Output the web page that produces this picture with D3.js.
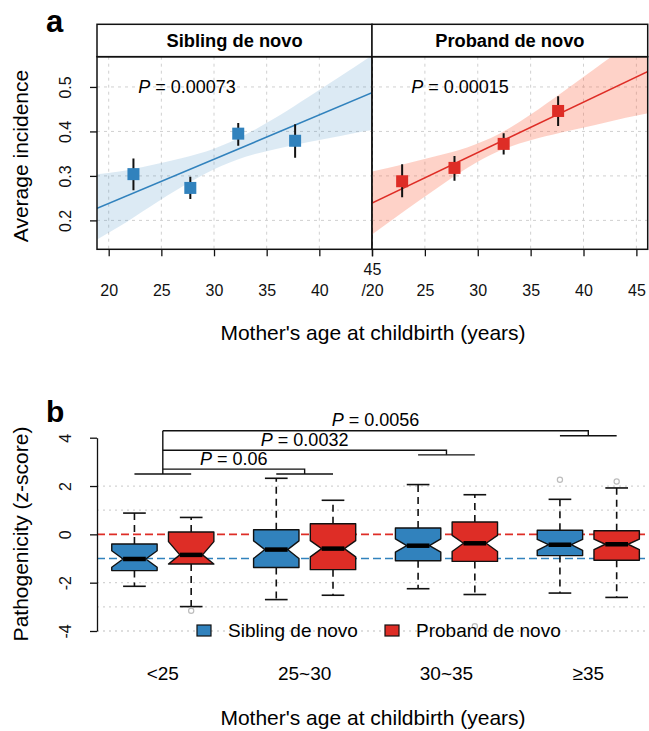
<!DOCTYPE html>
<html>
<head>
<meta charset="utf-8">
<script src="https://cdn.jsdelivr.net/npm/d3@7"></script>
<style>
  body { margin: 0; background: #fff; }
  text { font-family: "Liberation Sans", Arial, Helvetica, sans-serif; }
</style>
</head>
<body>
<svg id="chart" width="649" height="731"></svg>
<script>
// ---------- panel a data ----------
const panelNames = ["Sibling de novo", "Proband de novo"];
const panelP = ["0.00073", "0.00015"];

const sibAge = [22.35, 27.75, 32.3, 37.7];
const sibRate = [0.304, 0.273, 0.395, 0.379];
const sibLo = [0.268, 0.248, 0.368, 0.341];
const sibHi = [0.339, 0.298, 0.419, 0.416];

const proAge = [22.85, 27.8, 32.45, 37.6];
const proRate = [0.288, 0.318, 0.372, 0.446];
const proLo = [0.252, 0.289, 0.348, 0.412];
const proHi = [0.326, 0.345, 0.396, 0.479];

// fitted lines and confidence bands
const sibFitAge = [18.9, 45];
const sibFit = [0.227, 0.487];
const sibBandAge = [18.9, 21, 24, 27, 30, 33, 36, 39, 42, 45];
const sibBandLo = [0.157, 0.186, 0.232, 0.276, 0.315, 0.343, 0.361, 0.376, 0.390, 0.403];
const sibBandHi = [0.304, 0.310, 0.324, 0.340, 0.361, 0.393, 0.433, 0.478, 0.524, 0.571];

const proFitAge = [20, 46.1];
const proFit = [0.239, 0.535];
const proBandAge = [20, 23, 26, 29, 32, 35, 38, 41, 44, 46.1];
const proBandLo = [0.168, 0.220, 0.270, 0.318, 0.356, 0.380, 0.398, 0.414, 0.431, 0.441];
const proBandHi = [0.310, 0.326, 0.344, 0.364, 0.394, 0.438, 0.488, 0.540, 0.591, 0.626];

const ageTicks = [20, 25, 30, 35, 40, 45];
const rateTicks = [0.2, 0.3, 0.4, 0.5];

// ---------- panel b data ----------
const groups = ["<25", "25~30", "30~35", "\u226535"];
const seriesNames = ["Sibling de novo", "Proband de novo"];

const sibQ1 = [-1.50, -1.37, -1.09, -0.88];
const sibMed = [-1.02, -0.63, -0.47, -0.43];
const sibQ3 = [-0.40, 0.19, 0.26, 0.17];
const sibWLo = [-2.15, -2.70, -2.25, -2.43];
const sibWHi = [0.88, 2.32, 2.06, 1.45];
const sibNotchLo = [-1.36, -1.00, -0.74, -0.66];
const sibNotchHi = [-0.68, -0.27, -0.19, -0.21];
const sibOut = [[], [], [], [2.26]];

const proQ1 = [-1.23, -1.46, -1.12, -1.07];
const proMed = [-0.85, -0.59, -0.37, -0.41];
const proQ3 = [0.10, 0.44, 0.51, 0.15];
const proWLo = [-2.99, -2.52, -2.49, -2.61];
const proWHi = [0.70, 1.41, 1.64, 1.92];
const proNotchLo = [-1.23, -0.93, -0.71, -0.63];
const proNotchHi = [-0.30, -0.26, -0.04, -0.20];
const proOut = [[-3.16], [], [-3.8], [2.19]];

const zTicks = [-4, -2, 0, 2, 4];
const zGrid = [-4, -3, -2, 1, 2];
const sibRef = -1, proRef = 0;

// comparisons of <25 against the other groups
const bracketTo = [1, 2, 3];
const bracketP = ["0.06", "0.0032", "0.0056"];
const bracketBase = [2.5, 3.29, 4.08];
const bracketTop = [2.7, 3.48, 4.29];

const blue = "#3182bd", red = "#de2d26";
const svg = d3.select("#chart");

// ================= panel a =================
const aTop = 24.3, aStrip = 56.7, aBottom = 249.3;
const aLeft = 97, aMid = 372, aRight = 647.7;
const yA = d3.scaleLinear().domain([0.135, 0.568]).range([aBottom, aStrip]);
const xL = d3.scaleLinear().domain([18.89, 45]).range([aLeft, aMid]);
const xR = d3.scaleLinear().domain([20, 46.07]).range([aMid, aRight]);

const panels = [
  {x: xL, age: sibAge, rate: sibRate, lo: sibLo, hi: sibHi, fitAge: sibFitAge, fit: sibFit,
   bAge: sibBandAge, bLo: sibBandLo, bHi: sibBandHi, col: blue, band: "#3182bd", bandOp: 0.17},
  {x: xR, age: proAge, rate: proRate, lo: proLo, hi: proHi, fitAge: proFitAge, fit: proFit,
   bAge: proBandAge, bLo: proBandLo, bHi: proBandHi, col: red, band: "#fb6a4a", bandOp: 0.3}
];

const defs = svg.append("defs");
panels.forEach((p, i) => {
  const r = p.x.range();
  defs.append("clipPath").attr("id", "clip" + i)
    .append("rect").attr("x", r[0]).attr("y", aStrip)
    .attr("width", r[1] - r[0]).attr("height", aBottom - aStrip);
});

panels.forEach((p, i) => {
  const g = svg.append("g");
  const r = p.x.range();
  const inner = g.append("g").attr("clip-path", "url(#clip" + i + ")");

  // grid
  inner.selectAll(".gx").data(ageTicks).join("line")
    .attr("x1", d => p.x(d)).attr("x2", d => p.x(d))
    .attr("y1", aStrip).attr("y2", aBottom)
    .attr("stroke", "#d0d0d0").attr("stroke-dasharray", "3,4");
  inner.selectAll(".gy").data(rateTicks).join("line")
    .attr("x1", r[0]).attr("x2", r[1])
    .attr("y1", d => yA(d)).attr("y2", d => yA(d))
    .attr("stroke", "#d0d0d0").attr("stroke-dasharray", "3,4");

  // band
  const area = d3.area().curve(d3.curveMonotoneX)
    .x((d, j) => p.x(p.bAge[j]))
    .y0((d, j) => yA(p.bLo[j]))
    .y1((d, j) => yA(p.bHi[j]));
  inner.append("path").attr("d", area(p.bAge))
    .attr("fill", p.band).attr("fill-opacity", p.bandOp);

  // fitted line
  const line = d3.line().x((d, j) => p.x(p.fitAge[j])).y((d, j) => yA(p.fit[j]));
  inner.append("path").attr("d", line(p.fitAge))
    .attr("fill", "none").attr("stroke", p.col).attr("stroke-width", 1.6);

  // error bars and points
  inner.selectAll(".err").data(p.age).join("line")
    .attr("x1", d => p.x(d)).attr("x2", d => p.x(d))
    .attr("y1", (d, j) => yA(p.lo[j])).attr("y2", (d, j) => yA(p.hi[j]))
    .attr("stroke", "#111").attr("stroke-width", 2);
  inner.selectAll(".pt").data(p.age).join("rect")
    .attr("x", d => p.x(d) - 6).attr("y", (d, j) => yA(p.rate[j]) - 6)
    .attr("width", 12).attr("height", 12).attr("fill", p.col);

  // P value
  const pt = g.append("text").attr("x", i === 0 ? 187 : 460)
    .attr("y", yA(0.5) + 6).attr("font-size", 18).attr("text-anchor", "middle");
  pt.append("tspan").attr("font-style", "italic").text("P");
  pt.append("tspan").text(" = " + panelP[i]);

  // strip
  g.append("rect").attr("x", r[0]).attr("y", aTop)
    .attr("width", r[1] - r[0]).attr("height", aStrip - aTop)
    .attr("fill", "#fff").attr("stroke", "#111").attr("stroke-width", 1.5);
  g.append("text").attr("x", (r[0] + r[1]) / 2).attr("y", aTop + 22.5)
    .attr("text-anchor", "middle").attr("font-size", 18.3).attr("font-weight", "bold")
    .text(panelNames[i]);

  // panel border
  g.append("rect").attr("x", r[0]).attr("y", aStrip)
    .attr("width", r[1] - r[0]).attr("height", aBottom - aStrip)
    .attr("fill", "none").attr("stroke", "#111").attr("stroke-width", 1.5);

  // x axis
  const ax = g.append("g").attr("transform", `translate(0,${aBottom})`)
    .call(d3.axisBottom(p.x).tickValues(ageTicks).tickSize(7).tickPadding(28)
      .tickFormat(d => (i === 1 && d === 20) ? "/20" : d));
  ax.select(".domain").remove();
  ax.selectAll("line").attr("stroke", "#111").attr("stroke-width", 1.3);
  ax.selectAll("text").attr("font-size", 16).attr("fill", "#111")
    .attr("font-family", '"Liberation Sans", Arial, sans-serif');
  if (i === 0) {
    ax.selectAll(".tick").filter(d => d === 45).select("text").attr("dy", "-0.6em");
  }
});

// y axis (panel a)
const ayA = svg.append("g").attr("transform", `translate(${aLeft},0)`)
  .call(d3.axisLeft(yA).tickValues(rateTicks).tickSize(7).tickFormat(d3.format(".1f")));
ayA.select(".domain").remove();
ayA.selectAll("line").attr("stroke", "#111").attr("stroke-width", 1.3);
ayA.selectAll(".tick text").attr("font-size", 16).attr("fill", "#111")
  .attr("font-family", '"Liberation Sans", Arial, sans-serif')
  .attr("transform", "rotate(-90)").attr("x", 0).attr("y", -26).attr("dy", null)
  .attr("text-anchor", "middle");

svg.append("text").attr("x", 373).attr("y", 340).attr("text-anchor", "middle")
  .attr("font-size", 21).text("Mother's age at childbirth (years)");
svg.append("text").attr("transform", "translate(28,156) rotate(-90)")
  .attr("text-anchor", "middle").attr("font-size", 21).text("Average incidence");
svg.append("text").attr("x", 46).attr("y", 32).attr("font-size", 31)
  .attr("font-weight", "bold").text("a");

// ================= panel b =================
const bLeft = 97, bRight = 649;
const yB = d3.scaleLinear().domain([-4, 4]).range([631, 437.7]);
const xB = d3.scaleLinear().domain([0.34, 10.07]).range([bLeft, bRight]);
const boxW = 0.8;
const groupPos = g => 1.5 + g * 2.5;
const boxPos = (g, s) => 1 + g * 2.5 + s;

const gb = svg.append("g");
gb.selectAll(".grid").data(zGrid).join("line")
  .attr("x1", bLeft).attr("x2", bRight)
  .attr("y1", d => yB(d)).attr("y2", d => yB(d))
  .attr("stroke", "#d3d3d3").attr("stroke-width", 1.3).attr("stroke-dasharray", "2,4");
gb.append("line").attr("x1", bLeft).attr("x2", bRight)
  .attr("y1", yB(proRef)).attr("y2", yB(proRef))
  .attr("stroke", red).attr("stroke-width", 1.6).attr("stroke-dasharray", "8,4");
gb.append("line").attr("x1", bLeft).attr("x2", bRight)
  .attr("y1", yB(sibRef)).attr("y2", yB(sibRef))
  .attr("stroke", blue).attr("stroke-width", 1.6).attr("stroke-dasharray", "8,4");

const boxes = [];
groups.forEach((name, g) => {
  boxes.push({g, s: 0, q1: sibQ1[g], med: sibMed[g], q3: sibQ3[g], wlo: sibWLo[g], whi: sibWHi[g],
    nlo: sibNotchLo[g], nhi: sibNotchHi[g], out: sibOut[g], col: blue});
  boxes.push({g, s: 1, q1: proQ1[g], med: proMed[g], q3: proQ3[g], wlo: proWLo[g], whi: proWHi[g],
    nlo: proNotchLo[g], nhi: proNotchHi[g], out: proOut[g], col: red});
});

boxes.forEach(b => {
  const c = xB(boxPos(b.g, b.s));
  const hw = (xB(boxW) - xB(0)) / 2;
  const bg = gb.append("g");
  // whiskers
  [[b.q3, b.whi], [b.q1, b.wlo]].forEach(([a, e]) => {
    bg.append("line").attr("x1", c).attr("x2", c).attr("y1", yB(a)).attr("y2", yB(e))
      .attr("stroke", "#111").attr("stroke-width", 1.6).attr("stroke-dasharray", "7,5");
    bg.append("line").attr("x1", c - hw / 2).attr("x2", c + hw / 2)
      .attr("y1", yB(e)).attr("y2", yB(e)).attr("stroke", "#111").attr("stroke-width", 1.6);
  });
  // notched box
  const pts = [
    [c - hw, b.q1], [c - hw, b.nlo], [c - hw / 2, b.med], [c - hw, b.nhi], [c - hw, b.q3],
    [c + hw, b.q3], [c + hw, b.nhi], [c + hw / 2, b.med], [c + hw, b.nlo], [c + hw, b.q1]
  ];
  bg.append("polygon").attr("points", pts.map(p => [p[0], yB(p[1])].join(",")).join(" "))
    .attr("fill", b.col).attr("stroke", "#111").attr("stroke-width", 1.4)
    .attr("stroke-linejoin", "round");
  bg.append("line").attr("x1", c - hw / 2).attr("x2", c + hw / 2)
    .attr("y1", yB(b.med)).attr("y2", yB(b.med)).attr("stroke", "#000").attr("stroke-width", 4.5);
  // outliers
  bg.selectAll("circle").data(b.out).join("circle")
    .attr("cx", c).attr("cy", d => yB(d)).attr("r", 2.6)
    .attr("fill", "none").attr("stroke", "#bdbdbd").attr("stroke-width", 1.2);
});

// y axis (panel b)
const ayB = svg.append("g").attr("transform", `translate(${bLeft},0)`)
  .call(d3.axisLeft(yB).tickValues(zTicks).tickSize(7).tickSizeOuter(0));
ayB.select(".domain").attr("stroke", "#111").attr("stroke-width", 1.3);
ayB.selectAll("line").attr("stroke", "#111").attr("stroke-width", 1.3);
ayB.selectAll(".tick text").attr("font-size", 16).attr("fill", "#111")
  .attr("font-family", '"Liberation Sans", Arial, sans-serif')
  .attr("transform", "rotate(-90)").attr("x", 0).attr("y", -26).attr("dy", null)
  .attr("text-anchor", "middle")
  .text(d => d < 0 ? "-" + Math.abs(d) : d);

// group labels
gb.selectAll(".glab").data(groups).join("text")
  .attr("x", (d, g) => xB(groupPos(g))).attr("y", 680)
  .attr("text-anchor", "middle").attr("font-size", 19).text(d => d);

// brackets
const br = svg.append("g").attr("stroke", "#111").attr("stroke-width", 1.4).attr("fill", "none");
const g0 = xB(groupPos(0));
br.append("line").attr("x1", xB(boxPos(0, 0))).attr("x2", xB(boxPos(0, 1)))
  .attr("y1", yB(bracketBase[0])).attr("y2", yB(bracketBase[0]));
br.append("line").attr("x1", g0).attr("x2", g0)
  .attr("y1", yB(bracketBase[0])).attr("y2", yB(d3.max(bracketTop)));
bracketTo.forEach((t, i) => {
  const gx = xB(groupPos(t));
  br.append("line").attr("x1", xB(boxPos(t, 0))).attr("x2", xB(boxPos(t, 1)))
    .attr("y1", yB(bracketBase[i])).attr("y2", yB(bracketBase[i]));
  br.append("polyline")
    .attr("points", [[g0, yB(bracketTop[i])], [gx, yB(bracketTop[i])], [gx, yB(bracketBase[i])]]
      .map(p => p.join(",")).join(" "));
  const tx = svg.append("text").attr("x", (g0 + gx) / 2).attr("y", yB(bracketTop[i]) - 4.5)
    .attr("text-anchor", "middle").attr("font-size", 18);
  tx.append("tspan").attr("font-style", "italic").text("P");
  tx.append("tspan").text(" = " + bracketP[i]);
});

// legend
const legX = [197, 385];
seriesNames.forEach((n, s) => {
  svg.append("rect").attr("x", legX[s]).attr("y", 625).attr("width", 14).attr("height", 11)
    .attr("fill", s === 0 ? blue : red).attr("stroke", "#111").attr("stroke-width", 1.2);
  svg.append("text").attr("x", legX[s] + 31).attr("y", 637).attr("font-size", 19).text(n);
});

svg.append("text").attr("x", 373).attr("y", 725).attr("text-anchor", "middle")
  .attr("font-size", 21).text("Mother's age at childbirth (years)");
svg.append("text").attr("transform", "translate(28,534) rotate(-90)")
  .attr("text-anchor", "middle").attr("font-size", 21).text("Pathogenicity (z-score)");
svg.append("text").attr("x", 46).attr("y", 422).attr("font-size", 30)
  .attr("font-weight", "bold").text("b");
</script>
</body>
</html>
